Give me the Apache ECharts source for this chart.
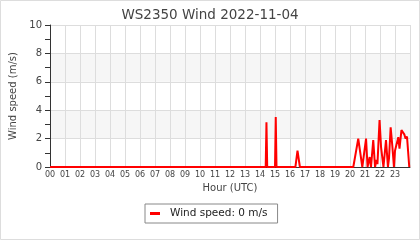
<!DOCTYPE html>
<html>
<head>
<meta charset="utf-8">
<script src="https://cdn.jsdelivr.net/npm/echarts@6/dist/echarts.min.js"></script>
<style>
html,body{margin:0;padding:0;background:#fff;}
#c{width:420px;height:240px;}
</style>
</head>
<body>
<div id="c"></div>
<script>
var titleText = 'WS2350 Wind 2022-11-04';
var seriesName = 'Wind speed: 0 m/s';
var hourTicks = ['00','01','02','03','04','05','06','07','08','09','10','11','12','13','14','15','16','17','18','19','20','21','22','23'];
var hours = [0, 14.38, 14.43, 14.48, 15.0, 15.05, 15.1, 16.36, 16.5, 16.66,
  20.22, 20.55, 20.67, 20.82, 20.95, 21.07, 21.17, 21.25, 21.31, 21.4, 21.47, 21.55, 21.67,
  21.77, 21.83, 21.97, 22.07, 22.15, 22.23, 22.3, 22.4, 22.53, 22.6, 22.71, 22.82, 22.93,
  23.0, 23.11, 23.22, 23.3, 23.43, 23.53, 23.62, 23.7, 23.8, 23.95];
var speeds = [0, 0, 3.15, 0, 0, 3.52, 0, 0, 1.15, 0,
  0, 2.0, 1.9, 0, 0, 2.0, 0, 0, 0.7, 0, 0, 1.9, 0,
  0.5, 0.2, 3.3, 1.4, 1.5, 0, 0, 1.9, 0, 0.6, 2.8, 1.5, 0,
  1.15, 1.15, 2.1, 1.3, 2.6, 2.5, 2.3, 2.0, 2.15, 0];

var pts = hours.map(function(h, i){ return [h, speeds[i]]; });
var chart = echarts.init(document.getElementById('c'), null, {renderer:'canvas'});
var font = 'DejaVu Sans';
chart.setOption({
  animation: false,
  backgroundColor: '#fff',
  textStyle: {fontFamily: font},
  graphic: [{type:'rect', shape:{x:0.5,y:0.5,width:419,height:239}, style:{fill:'none', stroke:'#ddd', lineWidth:1}, silent:true}],
  title: {text: titleText, left: 'center', top: 3, textStyle:{fontFamily:font, fontSize:13.5, fontWeight:'normal', color:'#444'}},
  grid: {left:50, right:10, top:25, bottom:73},
  legend: {
    left: 145, top: 204, padding:[4,10,4,5], borderColor:'#888', borderWidth:1,
    itemWidth:10, itemHeight:3, icon:'rect',
    textStyle:{fontFamily:font, fontSize:10.5, color:'#222', padding:[0,0,0,5]},
    data:[seriesName]
  },
  xAxis: {
    type:'value', min:0, max:24, interval:1,
    name:'Hour (UTC)', nameLocation:'middle', nameGap:15,
    nameTextStyle:{fontFamily:font, fontSize:10, color:'#444'},
    axisLine:{show:true, lineStyle:{color:'#333'}},
    axisTick:{show:false},
    axisLabel:{fontFamily:font, fontSize:8, color:'#444', margin:4, showMaxLabel:false,
      formatter:function(v){ return hourTicks[v] !== undefined ? hourTicks[v] : ''; }},
    splitLine:{show:true, lineStyle:{color:'#ddd', width:1}}
  },
  yAxis: {
    type:'value', min:0, max:10, interval:2,
    name:'Wind speed (m/s)', nameLocation:'middle', nameGap:31,
    nameTextStyle:{fontFamily:font, fontSize:10, color:'#444'},
    axisLine:{show:true, lineStyle:{color:'#333'}},
    axisTick:{show:true, length:5, lineStyle:{color:'#333'}},
    minorTick:{show:true, splitNumber:2, length:5, lineStyle:{color:'#333'}},
    axisLabel:{fontFamily:font, fontSize:10, color:'#444', margin:8},
    splitLine:{show:true, lineStyle:{color:'#ddd', width:1}},
    splitArea:{show:true, areaStyle:{color:['#ffffff','#f6f6f6']}}
  },
  series: [{
    name: seriesName, type:'line', data: pts, showSymbol:false, symbol:'none',
    lineStyle:{color:'#ff0000', width:2}, itemStyle:{color:'#ff0000'}, z:5
  }]
});
</script>
</body>
</html>
